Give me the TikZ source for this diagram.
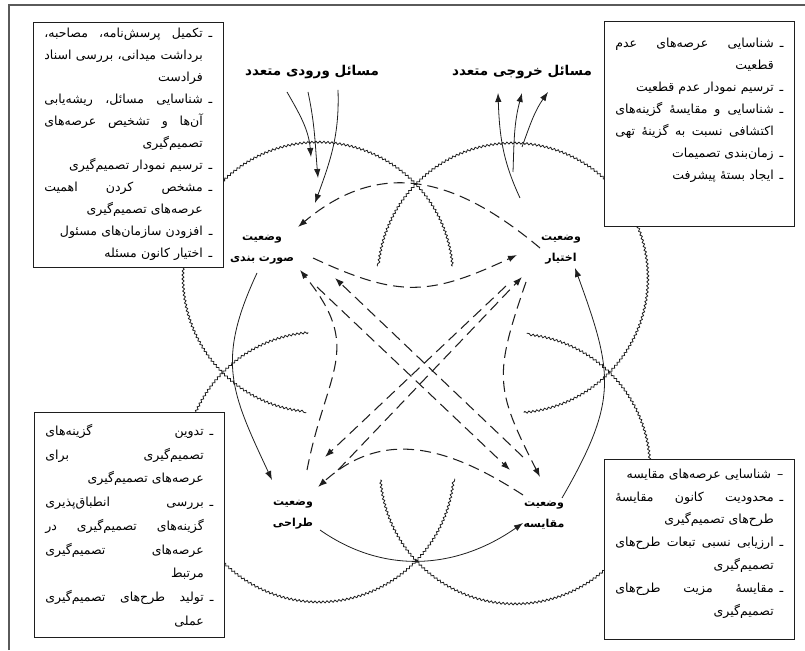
\documentclass[tikz,border=0pt]{standalone}
\usepackage{xcolor}
\usepackage{fontspec}
\usepackage{tikz}
\usetikzlibrary{positioning,arrows.meta,decorations.pathmorphing}
\TeXXeTstate=1
\newfontfamily\arabicfont[Script=Arabic]{DejaVu Sans}
\definecolor{lnblack}{HTML}{1E1E1E}
\definecolor{frgray}{HTML}{5A5A5A}

% lines of the four boxes, right to left
\newlength{\dashw}
\newcommand{\bdash}{ـ\hskip6pt\relax}
\newcommand{\fl}[1]{\noindent\hbox to\linewidth{\spaceskip=0.25em plus 1fil\relax\beginR#1\endR}\par}
\newcommand{\rl}[1]{\noindent\hbox to\linewidth{\hfil\beginR#1\endR}\par}
\newcommand{\cfl}[1]{\noindent\hbox to\linewidth{\spaceskip=0.25em plus 1fil\relax\beginR#1\endR\hskip\dashw}\par}
\newcommand{\crl}[1]{\noindent\hbox to\linewidth{\hfil\beginR#1\endR\hskip\dashw}\par}

\begin{document}
\begin{tikzpicture}[x=1pt, y=1pt,
  wavy/.style={draw=lnblack, line width=0.8pt, decorate, decoration={snake, amplitude=1pt, segment length=4pt}},
  solidarr/.style={draw=lnblack, line width=0.8pt, -{Latex[length=9pt,width=6.5pt]}},
  dasharr/.style={solidarr, line width=1.05pt, dash pattern=on 11pt off 6pt},
  stlabel/.style={font=\arabicfont\bfseries\fontsize{11}{21}\selectfont, align=center, inner sep=1pt},
  headtxt/.style={font=\arabicfont\bfseries\fontsize{13.5}{15}\selectfont, inner sep=1pt},
  infobox/.style={draw=lnblack, fill=white, line width=0.8pt, inner xsep=11pt, inner ysep=0pt, anchor=north west, text width=168pt, font=\arabicfont\fontsize{12.5}{#1}\selectfont, execute at begin node={\settowidth{\dashw}{\bdash}}},
  frameline/.style={draw=frgray, line width=1.2pt}]

\useasboundingbox (0,0) rectangle (805,650);

% frame of the page
\draw[frameline] (9,0) -- (9,645) -- (805,645);

% four rough circles, open towards the middle
\foreach \cx/\cy/\sa in {318/372/5, 512/372/-85, 320/183/95, 515/182/185}
  \draw[wavy] (\cx,\cy) ++(\sa:135) arc[start angle=\sa, delta angle=260, radius=135];

% the four states
\node[stlabel] (F) at (262,400) {\beginR وضعیت\endR\\\beginR صورت بندی\endR};
\node[stlabel] (C) at (561,400) {\beginR وضعیت\endR\\\beginR اختیار\endR};
\node[stlabel] (D) at (293,135) {\beginR وضعیت\endR\\\beginR طراحی\endR};
\node[stlabel] (M) at (544,135) {\beginR وضعیت\endR\\\beginR مقایسه\endR};

% headings
\node[headtxt] (inhead) at (312,578) {\beginR مسائل ورودی متعدد\endR};
\node[headtxt] (outhead) at (522,578) {\beginR مسائل خروجی متعدد\endR};

% free ends of the input and output arrows
\coordinate (in1) at (311,493);
\coordinate (in2) at (318,472);
\coordinate (in3) at (315,447);
\coordinate (out1) at (520,452);
\coordinate (out2) at (513,478);
\coordinate (out3) at (522,503);

\draw[solidarr] ([shift={(-25,-20)}]inhead.center) to[out=-60,in=95] (in1);
\draw[solidarr] ([shift={(-4,-20)}]inhead.center) to[out=-78,in=95] (in2);
\draw[solidarr] ([shift={(26,-18)}]inhead.center) to[out=-88,in=70] (in3);
\draw[solidarr] (out1) to[out=115,in=-88] ([shift={(-24,-21)}]outhead.center);
\draw[solidarr] (out2) to[out=88,in=-105] ([shift={(0,-21)}]outhead.center);
\draw[solidarr] (out3) to[out=70,in=-125] ([shift={(26,-20)}]outhead.center);

% outer cycle
\draw[solidarr] ([shift={(-5,-23)}]F.center) to[out=245,in=115,looseness=1.2] ([shift={(-21,35)}]D.center);
\draw[solidarr] ([shift={(27,-15)}]D.center) to[out=-35,in=215] ([shift={(-21,-8)}]M.center);
\draw[solidarr] ([shift={(18,17)}]M.center) to[out=60,in=-70,looseness=1.25] ([shift={(14,-18)}]C.center);

% dashed links
\draw[dasharr] ([shift={(-21,2)}]C.center) to[out=140,in=40,looseness=1.15] ([shift={(36,23)}]F.center);
\draw[dasharr] ([shift={(51,-8)}]F.center) to[out=-25,in=205,looseness=1.2] ([shift={(-44,-5)}]C.center);
\draw[dasharr] ([shift={(14,45)}]D.center) to[out=79,in=-51,looseness=1.3] ([shift={(38,-20)}]F.center);
\draw[dasharr] ([shift={(-35,-32)}]C.center) to[out=251,in=117,looseness=1.3] ([shift={(-4,38)}]M.center);
\draw[dasharr] ([shift={(-21,20)}]M.center) to[out=147,in=42,looseness=1.1] ([shift={(25,28)}]D.center);
\draw[dasharr] ([shift={(55,-37)}]F.center) -- ([shift={(-34,45)}]M.center);
\draw[dasharr] ([shift={(-21,58)}]M.center) -- ([shift={(73,-28)}]F.center);
\draw[dasharr] ([shift={(-55,-36)}]C.center) -- ([shift={(32,58)}]D.center);
\draw[dasharr] ([shift={(45,45)}]D.center) -- ([shift={(-39,-27)}]C.center);

% boxes
\node[infobox=22, text height=15pt, text depth=230pt] (tlbox) at (33,628) {%
  \fl{\bdash تکمیل پرسش‌نامه، مصاحبه،}
  \cfl{برداشت میدانی، بررسی اسناد}
  \crl{فرادست}
  \fl{\bdash شناسایی مسائل، ریشه‌یابی}
  \cfl{آن‌ها و تشخیص عرصه‌های}
  \crl{تصمیم‌گیری}
  \rl{\bdash ترسیم نمودار تصمیم‌گیری}
  \fl{\bdash مشخص کردن اهمیت}
  \crl{عرصه‌های تصمیم‌گیری}
  \rl{\bdash افزودن سازمان‌های مسئول}
  \rl{\bdash اختیار کانون مسئله}};

\node[infobox=22, text height=26pt, text depth=179pt] (trbox) at (604,629) {%
  \fl{\bdash شناسایی عرصه‌های عدم}
  \crl{قطعیت}
  \rl{\bdash ترسیم نمودار عدم قطعیت}
  \fl{\bdash شناسایی و مقایسهٔ گزینه‌های}
  \cfl{اکتشافی نسبت به گزینهٔ تهی}
  \rl{\bdash زمان‌بندی تصمیمات}
  \rl{\bdash ایجاد بستهٔ پیشرفت}};

\node[infobox=23.75, text height=23pt, text depth=202pt] (blbox) at (34,238) {%
  \fl{\bdash تدوین گزینه‌های}
  \cfl{تصمیم‌گیری برای}
  \crl{عرصه‌های تصمیم‌گیری}
  \fl{\bdash بررسی انطباق‌پذیری}
  \cfl{گزینه‌های تصمیم‌گیری در}
  \cfl{عرصه‌های تصمیم‌گیری}
  \crl{مرتبط}
  \fl{\bdash تولید طرح‌های تصمیم‌گیری}
  \crl{عملی}};

\node[infobox=22.8, text height=19pt, text depth=161pt] (brbox) at (604,191) {%
  \rl{–\hskip6pt\relax شناسایی عرصه‌های مقایسه}
  \fl{\bdash محدودیت کانون مقایسهٔ}
  \crl{طرح‌های تصمیم‌گیری}
  \fl{\bdash ارزیابی نسبی تبعات طرح‌های}
  \crl{تصمیم‌گیری}
  \fl{\bdash مقایسهٔ مزیت طرح‌های}
  \crl{تصمیم‌گیری}};
\end{tikzpicture}
\end{document}
